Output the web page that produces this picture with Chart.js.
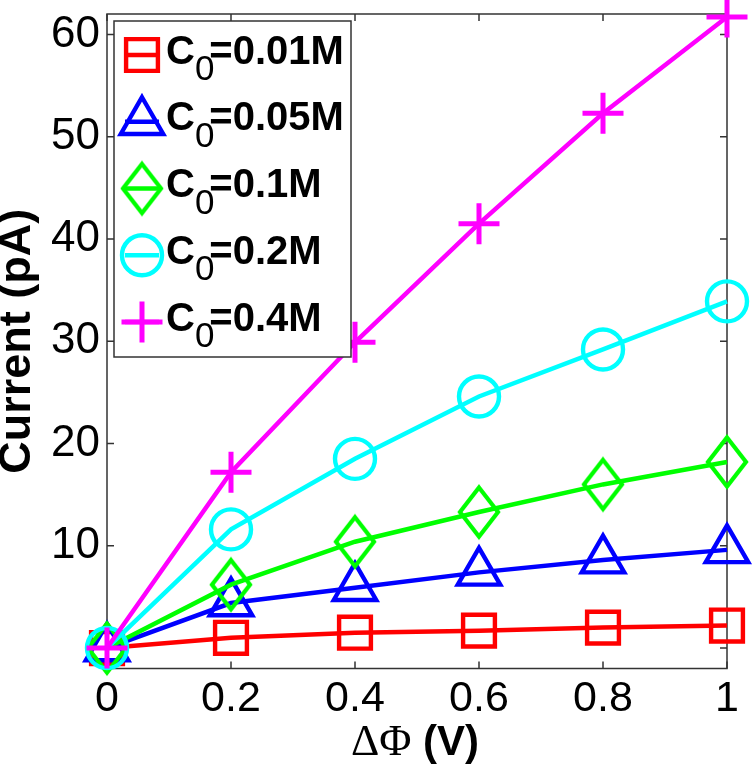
<!DOCTYPE html>
<html><head><meta charset="utf-8">
<script src="https://cdn.jsdelivr.net/npm/chart.js@4.4.0/dist/chart.umd.min.js"></script>
<style>html,body{margin:0;padding:0;background:#fff;} #wrap{width:756px;height:770px;position:relative;}</style>
</head><body><div id="wrap"><canvas id="c" width="756" height="770"></canvas></div>
<script>
// ---- data ----
const xValues = [0, 0.2, 0.4, 0.6, 0.8, 1.0];
const concentrations = ['0.01M', '0.05M', '0.1M', '0.2M', '0.4M'];
const seriesC001 = [0, 1.0, 1.5, 1.7, 2.0, 2.2];
const seriesC005 = [0, 4.4, 5.9, 7.4, 8.6, 9.6];
const seriesC01  = [0, 6.2, 10.4, 13.3, 16.0, 18.2];
const seriesC02  = [0, 11.6, 18.5, 24.6, 29.2, 33.9];
const seriesC04  = [0, 17.2, 29.9, 41.5, 52.3, 61.7];
const xTicks = [0, 0.2, 0.4, 0.6, 0.8, 1];
const xTickLabels = ['0', '0.2', '0.4', '0.6', '0.8', '1'];
const yTicks = [0, 10, 20, 30, 40, 50, 60];
const yTickLabels = ['', '10', '20', '30', '40', '50', '60'];
const xTitleSymbol = 'ΔΦ';
const xTitleUnit = ' (V)';
const yTitle = 'Current (pA)';

const FONT = "'Liberation Sans', Arial, Helvetica, sans-serif";
const SERIF = "'Liberation Serif', 'Times New Roman', serif";

// custom diamond marker (taller than wide)
function makeDiamond(color) {
  const cv = document.createElement('canvas');
  cv.width = 48; cv.height = 60;
  const g = cv.getContext('2d');
  g.strokeStyle = color; g.lineWidth = 4.2; g.lineJoin = 'miter';
  g.beginPath();
  g.moveTo(24, 5.5); g.lineTo(43, 30); g.lineTo(24, 54.5); g.lineTo(5, 30); g.closePath();
  g.stroke();
  return cv;
}

const styles = [
  {color: '#ff0000', pointStyle: 'rect', radius: 22.5, bw: 4.4},
  {color: '#0000ff', pointStyle: 'triangle', radius: 24.5, bw: 4.4},
  {color: '#00ff00', pointStyle: makeDiamond('#00ff00'), radius: 24, bw: 4.2},
  {color: '#00ffff', pointStyle: 'circle', radius: 20, bw: 4.4},
  {color: '#ff00ff', pointStyle: 'cross', radius: 20.5, bw: 5}
];
const allSeries = [seriesC001, seriesC005, seriesC01, seriesC02, seriesC04];

const datasets = allSeries.map((vals, i) => ({
  label: 'C₀=' + concentrations[i],
  data: xValues.map((x, j) => ({x: x, y: vals[j]})),
  borderColor: styles[i].color,
  backgroundColor: 'rgba(0,0,0,0)',
  borderWidth: 4.5,
  pointStyle: styles[i].pointStyle,
  pointRadius: styles[i].radius,
  pointHoverRadius: styles[i].radius,
  pointBorderWidth: styles[i].bw,
  pointBorderColor: styles[i].color,
  pointBackgroundColor: 'rgba(0,0,0,0)',
  tension: 0,
  clip: false,
  order: allSeries.length - i
}));

const frameColor = '#333333';
const framePlugin = {
  id: 'frame',
  beforeDatasetsDraw(chart) {
    const {ctx, chartArea: a, scales} = chart;
    ctx.save();
    ctx.strokeStyle = frameColor;
    ctx.lineWidth = 1.5;
    ctx.strokeRect(a.left, a.top, a.right - a.left, a.bottom - a.top);
    const L = 7;
    ctx.beginPath();
    xTicks.forEach(v => {
      const px = scales.x.getPixelForValue(v);
      ctx.moveTo(px, a.bottom); ctx.lineTo(px, a.bottom - L);
      ctx.moveTo(px, a.top); ctx.lineTo(px, a.top + L);
    });
    yTicks.forEach(v => {
      const py = scales.y.getPixelForValue(v);
      ctx.moveTo(a.left, py); ctx.lineTo(a.left + L, py);
      ctx.moveTo(a.right, py); ctx.lineTo(a.right - L, py);
    });
    ctx.stroke();
    ctx.restore();
  }
};

// x-axis title with a serif Greek symbol and a bold unit, as in the original
const xTitlePlugin = {
  id: 'xTitle',
  afterDraw(chart) {
    const {ctx, chartArea: a} = chart;
    ctx.save();
    ctx.fillStyle = '#000';
    ctx.textBaseline = 'alphabetic';
    ctx.textAlign = 'left';
    const symFont = '44px ' + SERIF;
    const unitFont = 'bold 42px ' + FONT;
    ctx.font = symFont; const w1 = ctx.measureText(xTitleSymbol).width;
    ctx.font = unitFont; const w2 = ctx.measureText(xTitleUnit).width;
    const cx = (a.left + a.right) / 2 - 2;
    let x = cx - (w1 + w2) / 2;
    const base = 755;
    ctx.font = symFont; ctx.fillText(xTitleSymbol, x, base);
    ctx.font = unitFont; ctx.fillText(xTitleUnit, x + w1, base);
    ctx.restore();
  }
};

const legendPlugin = {
  id: 'boxLegend',
  afterDraw(chart) {
    const {ctx} = chart;
    const bx = 114, by = 21, bw = 237, bh = 336;
    ctx.save();
    ctx.fillStyle = '#ffffff';
    ctx.fillRect(bx, by, bw, bh);
    ctx.strokeStyle = frameColor;
    ctx.lineWidth = 1.5;
    ctx.strokeRect(bx, by, bw, bh);
    chart.data.datasets.forEach((ds, i) => {
      const my = 55 + i * 66.75;
      const mx = 142;
      const st = styles[i];
      ctx.strokeStyle = st.color;
      ctx.lineWidth = 4.5;
      ctx.beginPath(); ctx.moveTo(mx - 17, my); ctx.lineTo(mx + 17, my); ctx.stroke();
      ctx.lineWidth = st.bw;
      ctx.fillStyle = 'rgba(0,0,0,0)';
      Chart.helpers.drawPoint(ctx, {pointStyle: st.pointStyle, radius: st.radius, borderWidth: st.bw, rotation: 0}, mx, my);
      // text: C, subscript 0, =conc
      ctx.fillStyle = '#000';
      ctx.textBaseline = 'alphabetic';
      ctx.textAlign = 'left';
      let tx = 166;
      ctx.font = 'bold 40px ' + FONT;
      ctx.fillText('C', tx, my + 8.5);
      tx += ctx.measureText('C').width;
      ctx.font = '35px ' + FONT;
      ctx.fillText('0', tx, my + 25);
      tx += ctx.measureText('0').width - 5;
      ctx.font = 'bold 40px ' + FONT;
      ctx.fillText('=' + concentrations[i], tx, my + 8.5);
    });
    ctx.restore();
  }
};

new Chart(document.getElementById('c'), {
  type: 'line',
  data: {datasets: datasets},
  options: {
    responsive: false,
    animation: false,
    devicePixelRatio: 1,
    layout: {autoPadding: false, padding: {left: 0, top: 14, right: 29, bottom: 0}},
    plugins: {legend: {display: false}, tooltip: {enabled: false}},
    events: [],
    scales: {
      x: {
        type: 'linear', min: 0, max: 1,
        afterBuildTicks: s => { s.ticks = xTicks.map(v => ({value: v})); },
        afterFit: s => { s.height = 101.5; s.paddingLeft = 0; s.paddingRight = 0; s.paddingTop = 0; s.paddingBottom = 0; },
        ticks: {
          autoSkip: false, maxRotation: 0, color: '#000', padding: 18,
          font: {family: FONT, size: 43, lineHeight: 0.6},
          callback: (v, i) => xTickLabels[i]
        },
        grid: {display: false, drawTicks: false},
        border: {display: false},
        title: {display: false}
      },
      y: {
        type: 'linear', min: -2, max: 62,
        afterBuildTicks: s => { s.ticks = yTicks.map(v => ({value: v})); },
        afterFit: s => { s.width = 107; s.paddingLeft = 0; s.paddingRight = 0; s.paddingTop = 0; s.paddingBottom = 0; },
        ticks: {
          autoSkip: false, color: '#000', padding: 7,
          font: {family: FONT, size: 44, lineHeight: 0.6},
          callback: (v, i) => yTickLabels[i]
        },
        grid: {display: false, drawTicks: false},
        border: {display: false},
        title: {display: true, text: yTitle, color: '#000', font: {family: FONT, size: 45, weight: 'bold', lineHeight: 0.8}, padding: {top: 0, bottom: 0}}
      }
    }
  },
  plugins: [framePlugin, xTitlePlugin, legendPlugin]
});
</script></body></html>
